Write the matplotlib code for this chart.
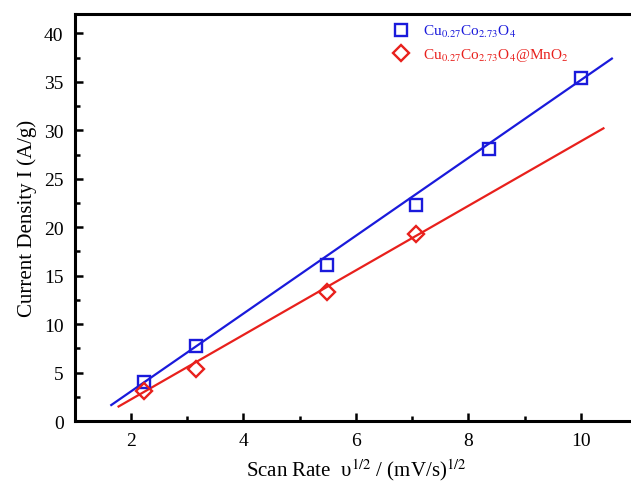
import numpy as np
import matplotlib
matplotlib.use("Agg")
import matplotlib.pyplot as plt
from matplotlib.ticker import MultipleLocator

plt.rcParams['font.family'] = ['Liberation Serif', 'DejaVu Serif']
plt.rcParams['mathtext.fontset'] = 'stix'

# square root of scan rate, (mV/s)^1/2
x_cuco = [2.236, 3.162, 5.477, 7.071, 8.367, 10.0]
y_cuco = [4.05, 7.7, 16.1, 22.3, 28.1, 35.4]
x_mno2 = [2.236, 3.162, 5.477, 7.071]
y_mno2 = [3.1, 5.4, 13.3, 19.3]

# fitted lines: slope, intercept, x range
fit_cuco = (4.017, -4.98, 1.65, 10.55)
fit_mno2 = (3.33, -4.43, 1.78, 10.4)

lab_cuco = r'Cu$_{0.27}$Co$_{2.73}$O$_4$'
lab_mno2 = r'Cu$_{0.27}$Co$_{2.73}$O$_4$@MnO$_2$'

fig = plt.figure(figsize=(6.31, 4.89), dpi=100)
ax = fig.add_axes([0.1184, 0.137, 0.8914, 0.8323])

blue = '#1a1adb'
red = '#e8201c'

for (k, b, x0, x1), c in [(fit_cuco, blue), (fit_mno2, red)]:
    xx = np.array([x0, x1])
    ax.plot(xx, k * xx + b, color=c, lw=1.6)

ax.plot(x_cuco, y_cuco, ls='none', marker='s', ms=8.5, mfc='none',
        mec=blue, mew=1.7, label=lab_cuco)
ax.plot(x_mno2, y_mno2, ls='none', marker='D', ms=8.5, mfc='none',
        mec=red, mew=1.7, label=lab_mno2)

ax.set_xlim(1, 11)
ax.set_ylim(0, 42)
ax.xaxis.set_major_locator(MultipleLocator(2))
ax.xaxis.set_minor_locator(MultipleLocator(1))
ax.yaxis.set_major_locator(MultipleLocator(5))
ax.yaxis.set_minor_locator(MultipleLocator(2.5))
ax.tick_params(which='both', direction='in', width=1.8, labelsize=14,
               top=False, right=False)
ax.tick_params(which='major', length=6, pad=8)
ax.tick_params(which='minor', length=3.5)
for s in ax.spines.values():
    s.set_linewidth(2.2)
ax.spines['right'].set_visible(False)

ax.set_xlabel(r'Scan Rate  υ$^{1/2}$ / (mV/s)$^{1/2}$', fontsize=15, labelpad=5)
ax.set_ylabel('Current Density I (A/g)', fontsize=15, labelpad=5)

ax.legend(loc='upper left', bbox_to_anchor=(0.54, 1.012), frameon=False,
          fontsize=11, handletextpad=0.8, labelspacing=0.45,
          handlelength=1.2, labelcolor='markeredgecolor')

fig.savefig('out.png', dpi=100)
